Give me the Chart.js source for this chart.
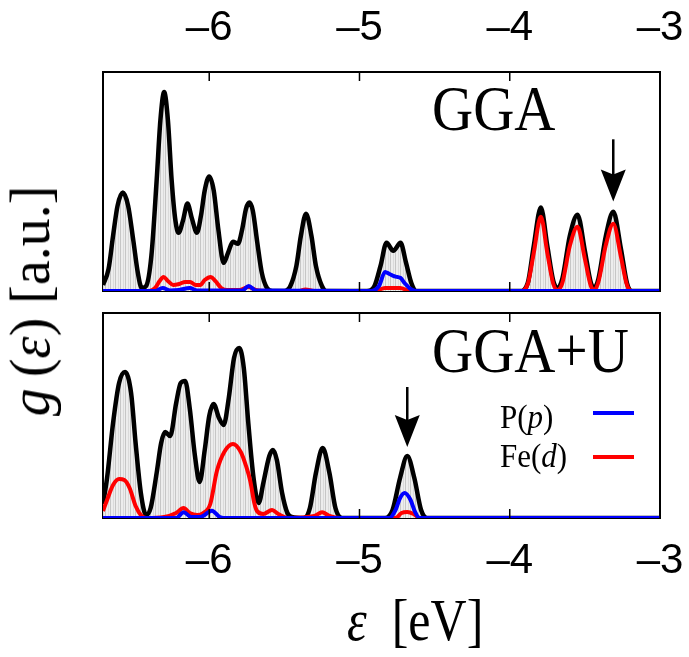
<!DOCTYPE html>
<html>
<head>
<meta charset="utf-8">
<script src="https://cdn.jsdelivr.net/npm/chart.js@4.4.0/dist/chart.umd.min.js"></script>
<style>
  body { margin: 0; background: #fff; width: 689px; height: 657px; position: relative; overflow: hidden; }
  canvas { position: absolute; left: 0; }
  #topCanvas { top: 0; }
  #bottomCanvas { top: 300px; }
  #yTitle {
    position: absolute; left: 30px; top: 301px;
    transform: translate(-50%, -50%) rotate(-90deg);
    font-family: "Liberation Serif", serif; font-size: 56px;
    white-space: nowrap; line-height: 1;
  }
</style>
</head>
<body>
<canvas id="topCanvas" width="689" height="300"></canvas>
<canvas id="bottomCanvas" width="689" height="357"></canvas>
<div id="yTitle"><i>g</i>&thinsp;(<i>ε</i>)&nbsp;[a.u.]</div>
<script>
// energy axis (eV) and tick labels
const xMin = -6.707, xMax = -3.0;
const xTicks = [-6, -5, -4, -3];

// GGA panel: [energy, g(e)]
const ggaTotal = [
  [-6.707, 6], [-6.67, 22], [-6.64, 55], [-6.61, 85], [-6.575, 98], [-6.54, 85], [-6.505, 50], [-6.475, 18], [-6.449, 3],
  [-6.42, 5], [-6.385, 35], [-6.35, 110], [-6.325, 170], [-6.30, 198], [-6.275, 170], [-6.25, 110], [-6.225, 70], [-6.204, 58],
  [-6.175, 70], [-6.145, 87], [-6.115, 72], [-6.082, 58], [-6.055, 75], [-6.03, 100], [-6.0, 114], [-5.97, 100], [-5.94, 62],
  [-5.904, 28], [-5.875, 38], [-5.842, 49], [-5.809, 47], [-5.78, 62], [-5.755, 82], [-5.733, 88], [-5.71, 80], [-5.68, 48],
  [-5.65, 18], [-5.616, 3], [-5.58, 0], [-5.50, 0], [-5.46, 5], [-5.42, 25], [-5.39, 55], [-5.356, 77], [-5.32, 55],
  [-5.29, 25], [-5.25, 5], [-5.22, 0], [-4.95, 0], [-4.90, 5], [-4.86, 25], [-4.82, 48], [-4.775, 40], [-4.727, 48],
  [-4.69, 28], [-4.655, 8], [-4.62, 0], [-3.93, 0], [-3.88, 8], [-3.84, 45], [-3.793, 83], [-3.75, 45], [-3.71, 10],
  [-3.682, 3], [-3.65, 12], [-3.60, 55], [-3.549, 76], [-3.50, 40], [-3.46, 8], [-3.438, 3], [-3.41, 12], [-3.36, 55],
  [-3.311, 79], [-3.26, 42], [-3.22, 8], [-3.19, 0], [-3.0, 0]
];
const ggaFe = [
  [-6.707, 0], [-6.40, 0], [-6.36, 3], [-6.33, 10], [-6.304, 14], [-6.275, 10], [-6.24, 6], [-6.20, 7], [-6.16, 9],
  [-6.127, 9], [-6.09, 6], [-6.06, 6], [-6.03, 11], [-5.99, 14], [-5.96, 10], [-5.92, 3], [-5.88, 1], [-5.80, 1],
  [-5.74, 4], [-5.69, 1], [-5.60, 0], [-5.40, 0], [-5.36, 1.5], [-5.30, 0], [-4.90, 0], [-4.83, 3], [-4.73, 3],
  [-4.66, 0], [-3.93, 0], [-3.88, 7], [-3.84, 38], [-3.793, 74], [-3.75, 38], [-3.71, 7], [-3.682, 1], [-3.65, 8],
  [-3.60, 45], [-3.549, 64], [-3.50, 32], [-3.46, 5], [-3.438, 1], [-3.41, 9], [-3.36, 46], [-3.311, 67], [-3.26, 34],
  [-3.22, 6], [-3.19, 0], [-3.0, 0]
];
const ggaP = [
  [-6.707, 0], [-6.36, 0], [-6.31, 3], [-6.26, 0.5], [-6.20, 1], [-6.13, 3], [-6.08, 0.5], [-5.78, 0.5], [-5.737, 5],
  [-5.69, 0.5], [-4.92, 0], [-4.87, 5], [-4.83, 19], [-4.80, 17], [-4.775, 15], [-4.75, 14], [-4.727, 13], [-4.70, 8],
  [-4.66, 2], [-4.62, 0], [-3.0, 0]
];

// GGA+U panel
const uTotal = [
  [-6.707, 14], [-6.68, 40], [-6.64, 95], [-6.60, 135], [-6.56, 146], [-6.52, 125], [-6.49, 75], [-6.455, 25], [-6.42, 3],
  [-6.39, 10], [-6.35, 45], [-6.32, 75], [-6.293, 86], [-6.26, 82], [-6.22, 115], [-6.19, 135], [-6.16, 137], [-6.13, 110],
  [-6.095, 62], [-6.064, 36], [-6.03, 68], [-6.0, 102], [-5.971, 114], [-5.935, 100], [-5.904, 93], [-5.87, 120],
  [-5.835, 160], [-5.80, 170], [-5.77, 150], [-5.74, 95], [-5.705, 40], [-5.671, 15], [-5.64, 35], [-5.60, 62],
  [-5.576, 68], [-5.55, 58], [-5.515, 25], [-5.48, 5], [-5.45, 1], [-5.37, 0], [-5.33, 10], [-5.29, 45], [-5.245, 70],
  [-5.20, 45], [-5.16, 10], [-5.115, 0], [-4.83, 0], [-4.78, 8], [-4.73, 40], [-4.682, 62], [-4.635, 40], [-4.59, 8],
  [-4.55, 0], [-3.0, 0]
];
const uFe = [
  [-6.707, 7], [-6.68, 18], [-6.64, 33], [-6.60, 39], [-6.565, 38], [-6.53, 30], [-6.49, 12], [-6.45, 2], [-6.42, 0],
  [-6.30, 1], [-6.22, 5], [-6.171, 10], [-6.13, 5], [-6.08, 3], [-6.04, 5], [-5.993, 14], [-5.949, 47], [-5.90, 66],
  [-5.842, 74], [-5.79, 66], [-5.755, 52], [-5.727, 37], [-5.70, 15], [-5.682, 7], [-5.64, 4], [-5.582, 8], [-5.54, 4],
  [-5.48, 0], [-5.30, 2], [-5.249, 5.7], [-5.20, 2], [-5.13, 0], [-4.76, 0], [-4.72, 5], [-4.682, 6], [-4.64, 4],
  [-4.60, 0], [-3.0, 0]
];
const uP = [
  [-6.707, 0], [-6.22, 0], [-6.17, 5.7], [-6.12, 1], [-6.06, 1], [-5.982, 7.3], [-5.93, 1], [-5.88, 0], [-4.80, 0],
  [-4.76, 8], [-4.73, 20], [-4.70, 25], [-4.66, 18], [-4.63, 6], [-4.60, 0], [-3.0, 0]
];

// light gray fill with thin vertical sticks
function stickPattern() {
  const c = document.createElement('canvas');
  c.width = 5; c.height = 4;
  const g = c.getContext('2d');
  g.fillStyle = '#ededed'; g.fillRect(0, 0, 5, 4);
  g.fillStyle = '#c6c6c6'; g.fillRect(0, 0, 1, 4);
  g.fillStyle = '#dadada'; g.fillRect(3, 0, 1, 4);
  return g.createPattern(c, 'repeat');
}

const toXY = arr => arr.map(p => ({ x: p[0], y: p[1] }));

function makeDatasets(total, fe, p) {
  return [
    { data: toXY(p), borderColor: '#0000ff', borderWidth: 4, order: 1 },
    { data: toXY(fe), borderColor: '#ff0000', borderWidth: 4, order: 2 },
    { data: toXY(total), borderColor: '#000000', borderWidth: 4.5, order: 3, fill: 'origin', backgroundColor: stickPattern() }
  ];
}

// serif text, slightly stretched vertically like the original figure
function drawMixed(ctx, parts, x, y, size, stretch) {
  ctx.save();
  ctx.translate(x, y);
  ctx.scale(1, stretch || 1);
  let cx = 0;
  parts.forEach(([txt, italic]) => {
    ctx.font = (italic ? 'italic ' : '') + size + 'px "Liberation Serif", serif';
    ctx.fillText(txt, cx, 0);
    cx += ctx.measureText(txt).width;
  });
  ctx.restore();
}

function drawArrow(ctx, x, yTail, yTip) {
  ctx.strokeStyle = '#000';
  ctx.lineWidth = 2.5;
  ctx.beginPath();
  ctx.moveTo(x, yTail); ctx.lineTo(x, yTip - 26);
  ctx.stroke();
  ctx.fillStyle = '#000';
  ctx.beginPath();
  ctx.moveTo(x - 12.5, yTip - 32);
  ctx.lineTo(x, yTip - 27);
  ctx.lineTo(x + 12.5, yTip - 32);
  ctx.lineTo(x, yTip);
  ctx.closePath();
  ctx.fill();
}

// panel frame, inward ticks, label, arrow, legend
function panelDecor(opts) {
  return {
    id: 'panelDecor',
    beforeDatasetsDraw(chart) {
      const { ctx, chartArea: a } = chart;
      ctx.save();
      ctx.strokeStyle = '#000';
      ctx.lineWidth = 2;
      ctx.strokeRect(a.left, a.top, a.right - a.left, a.bottom - a.top);
      ctx.restore();
    },
    afterDraw(chart) {
      const { ctx, chartArea: a, scales: { x, y } } = chart;
      ctx.save();
      ctx.strokeStyle = '#000';
      ctx.lineWidth = 1.5;
      xTicks.forEach(v => {
        const px = x.getPixelForValue(v);
        ctx.beginPath();
        ctx.moveTo(px, a.top); ctx.lineTo(px, a.top + 9);
        ctx.moveTo(px, a.bottom); ctx.lineTo(px, a.bottom - 9);
        ctx.stroke();
      });

      ctx.fillStyle = '#000';
      ctx.textBaseline = 'alphabetic';
      ctx.textAlign = 'left';
      drawMixed(ctx, [[opts.label, false]], 432, opts.labelY, 57, 1.1);

      drawArrow(ctx, x.getPixelForValue(opts.arrow[0]), y.getPixelForValue(opts.arrow[1]), y.getPixelForValue(opts.arrow[2]));

      if (opts.legend) {
        ctx.fillStyle = '#000';
        drawMixed(ctx, [['P(', false], ['p', true], [')', false]], 500, 128, 31, 1.1);
        drawMixed(ctx, [['Fe(', false], ['d', true], [')', false]], 500, 167, 31, 1.1);
        ctx.lineWidth = 4;
        ctx.strokeStyle = '#0000ff';
        ctx.beginPath(); ctx.moveTo(593, 113); ctx.lineTo(634, 113); ctx.stroke();
        ctx.strokeStyle = '#ff0000';
        ctx.beginPath(); ctx.moveTo(593, 157); ctx.lineTo(634, 157); ctx.stroke();
      }
      if (opts.xTitle) {
        ctx.fillStyle = '#000';
        drawMixed(ctx, [['ε', true], ['  [eV]', false]], 347, 340, 50, 1.2);
      }
      ctx.restore();
    }
  };
}

function makeChart(id, datasets, yMax, xPos, axisHeight, padding, decor) {
  return new Chart(document.getElementById(id), {
    type: 'line',
    data: { datasets },
    options: {
      responsive: false,
      animation: false,
      events: [],
      layout: { padding },
      elements: { point: { radius: 0 }, line: { cubicInterpolationMode: 'monotone' } },
      plugins: { legend: { display: false }, tooltip: { enabled: false } },
      scales: {
        x: {
          type: 'linear', position: xPos, min: xMin, max: xMax,
          afterBuildTicks: s => { s.ticks = xTicks.map(v => ({ value: v })); },
          afterFit: s => { s.height = axisHeight; s.paddingLeft = 0; s.paddingRight = 0; },
          grid: { display: false, drawTicks: false },
          border: { display: false },
          ticks: {
            padding: 18, color: '#000',
            font: { family: '"Liberation Sans", Arial, sans-serif', size: 42 },
            maxRotation: 0,
            callback: v => '\u2013' + Math.abs(v)
          }
        },
        y: { display: false, min: 0, max: yMax }
      }
    },
    plugins: [decor]
  });
}

makeChart('topCanvas', makeDatasets(ggaTotal, ggaFe, ggaP), 218, 'top', 72,
  { left: 103, right: 29, top: 0, bottom: 9 },
  panelDecor({ label: 'GGA', labelY: 130, arrow: [-3.311, 151, 89] }));

makeChart('bottomCanvas', makeDatasets(uTotal, uFe, uP), 205, 'bottom', 139,
  { left: 103, right: 29, top: 13, bottom: 0 },
  panelDecor({ label: 'GGA+U', labelY: 72, arrow: [-4.682, 131, 71], legend: true, xTitle: true }));
</script>
</body>
</html>
